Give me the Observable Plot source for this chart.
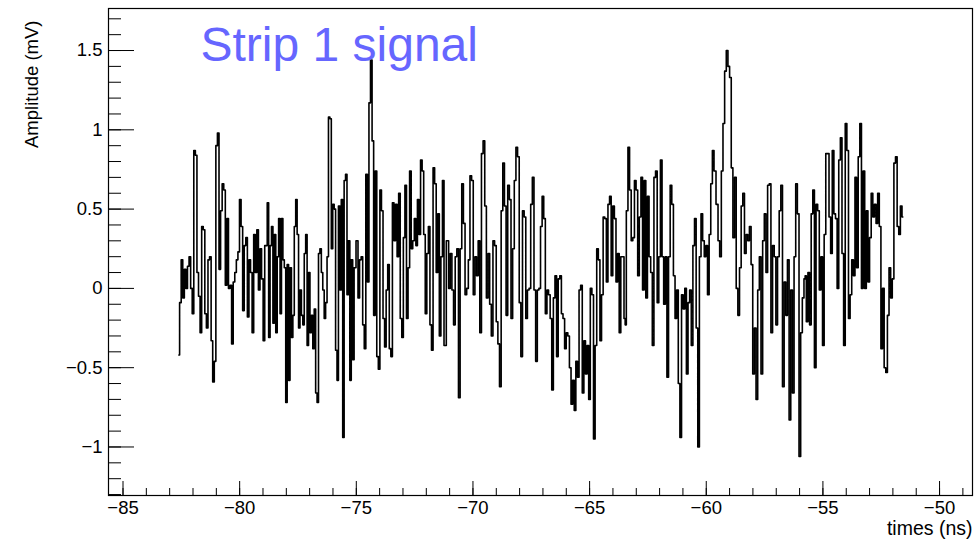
<!DOCTYPE html>
<html><head><meta charset="utf-8">
<script src="https://cdn.jsdelivr.net/npm/d3@7"></script>
<script src="https://cdn.jsdelivr.net/npm/@observablehq/plot@0.6"></script>
<style>body{margin:0;background:#fff} svg{font-family:"Liberation Sans",Arial,sans-serif}</style>
</head><body><div id="chart"></div>
<script>
const title = "Strip 1 signal";
const xLabel = "times (ns)";
const yLabel = "Amplitude (mV)";
const xMajorTicks = [-85, -80, -75, -70, -65, -60, -55, -50];
const xMinorTicks = d3.range(-85, -48, 1);
const yMajorTicks = [-1, -0.5, 0, 0.5, 1, 1.5];
const yMinorTicks = d3.range(-13, 18).map(d => d / 10);

// waveform, read in 8 consecutive stretches (start / end time of each stretch in ns)
const segStart = [-82.608, -78.849, -74.961, -71.078, -67.276, -63.461, -59.531, -55.746];
const segEnd   = [-78.892, -75.064, -71.207, -67.349, -63.491, -59.633, -55.776, -51.575];
const seg1 = [-0.42, -0.09, 0.18, -0.06, 0.12, 0.0, 0.14, 0.2, 0.0, -0.16, 0.87, 0.84, 0.1, -0.05, -0.28, 0.39, 0.37, -0.16, -0.25, 0.18, 0.2, -0.33, -0.59, -0.46, 0.9, 0.98, 0.12, 0.49, 0.66, 0.62, 0.02, 0.44, 0.0, 0.02, -0.35, 0.04, 0.1, 0.18, 0.23, 0.56, 0.39, -0.14, 0.27, 0.32, -0.18, 0.18, 0.1, -0.28, 0.34, 0.1, 0.37, -0.01, 0.25, 0.06, -0.33, 0.27];
const seg2 = [0.27, 0.54, -0.31, 0.27, 0.39, -0.22, 0.34, -0.28, 0.2, 0.44, -0.16, 0.44, 0.18, 0.13, -0.72, 0.15, -0.58, 0.13, -0.31, -0.17, 0.39, 0.56, 0.34, -0.25, -0.01, -0.17, -0.23, 0.22, 0.34, -0.36, 0.1, -0.28, -0.17, -0.38, -0.13, -0.66, -0.72, 0.22, 0.25, 0.1, -0.01, -0.19, -0.09, 0.2, 1.08, 1.07, 0.25, 0.53, 0.5, -0.39, -0.58, 0.52, -0.01, 0.56, -0.94, 0.68, 0.72, -0.04, 0.3, -0.58, 0.18, -0.45, 0.13];
const seg3 = [0.3, -0.06, 0.18, 0.2, -0.23, -0.38, 0.72, 0.04, 1.17, 1.44, 0.93, -0.17, 0.74, -0.43, -0.51, 0.62, 0.49, -0.19, -0.37, -0.01, 0.15, -0.38, -0.43, 0.54, 0.3, 0.53, 0.2, 0.6, -0.19, -0.31, 0.32, 0.65, -0.19, 0.13, 0.74, 0.25, 0.3, 0.44, 0.27, 0.56, 0.34, 0.81, 0.74, 0.34, -0.16, 0.22, 0.39, -0.23, -0.39, 0.76, 0.66, 0.1, 0.47, -0.3, 0.2, 0.68, -0.36];
const seg4 = [0.3, 0.0, 0.22, -0.01, -0.23, 0.2, 0.25, -0.69, 0.25, 0.66, 0.41, -0.04, 0.0, 0.18, 0.71, 0.68, -0.04, 0.2, 0.08, 0.3, -0.28, 0.85, 0.93, 0.52, -0.06, 0.22, -0.1, -0.3, 0.3, 0.27, -0.21, -0.35, -0.62, 0.49, 0.79, 0.52, -0.17, 0.65, 0.56, -0.19, 0.25, 0.68, 0.89, 0.83, -0.09, -0.43, 0.49, 0.45, -0.19, -0.01, 0.0, 0.53, 0.7, -0.01];
const seg5 = [-0.46, -0.01, 0.0, 0.39, 0.58, 0.44, -0.16, -0.01, -0.04, -0.19, -0.64, -0.06, 0.08, -0.43, 0.06, 0.08, -0.16, -0.19, -0.38, -0.28, -0.3, -0.5, -0.73, -0.58, -0.77, -0.46, -0.56, -0.01, 0.02, -0.66, -0.33, -0.54, -0.36, -0.7, 0.0, -0.04, -0.95, -0.36, 0.25, 0.18, -0.33, -0.04, 0.45, 0.44, 0.04, 0.53, 0.58, 0.08, 0.52, 0.44, 0.04, 0.22, -0.28, 0.2, 0.2, -0.19];
const seg6 = [-0.23, 0.49, 0.89, 0.62, 0.3, 0.32, 0.68, 0.62, 0.08, 0.45, 0.7, -0.01, 0.68, -0.06, 0.58, 0.2, 0.1, -0.36, 0.7, 0.74, -0.09, 0.2, 0.81, 0.2, -0.1, 0.2, -0.56, 0.2, 0.65, 0.53, 0.08, -0.19, -0.01, -0.6, -0.94, -0.04, -0.13, 0.0, -0.54, -0.09, -0.01, -0.36, 0.27, 0.44, -0.25, -1.0, 0.2, 0.47, 0.3, 0.2, 0.27, -0.04, 0.34, 0.66, 0.87, 0.74];
const seg7 = [0.53, 0.3, 0.2, 0.74, 1.04, 1.37, 1.5, 1.4, 1.33, 0.76, 0.32, 0.7, 0.0, -0.17, 0.13, 0.52, 0.6, 0.22, 0.34, 0.3, 0.39, 0.15, -0.54, -0.25, -0.7, -0.01, 0.2, -0.54, 0.3, 0.47, 0.1, 0.65, 0.66, -0.28, 0.27, 0.2, -0.23, 0.2, 0.49, 0.65, -0.62, 0.04, -0.17, 0.18, -0.83, -0.01, -0.66, 0.2, 0.66, 0.47, -1.06, -0.28, -0.06, 0.06];
const seg8 = [0.08, -0.21, 0.1, -0.23, 0.47, 0.62, -0.5, 0.53, 0.49, -0.01, 0.2, -0.36, 0.34, 0.85, 0.85, 0.45, 0.22, 0.87, 0.47, 0.44, 0.0, 0.81, 0.95, 0.22, -0.36, 1.04, 0.87, -0.19, -0.04, 0.18, 0.08, 0.7, 0.13, 0.83, 1.04, 0.0, 0.74, 0.0, 0.49, 0.04, 0.32, 0.6, 0.45, 0.53, 0.41, 0.6, 0.39, -0.38, 0.0, -0.5, -0.53, -0.17, 0.13, -0.06, 0.06, 0.79, 0.83, 0.39, 0.34, 0.52, 0.45];

const segments = [seg1, seg2, seg3, seg4, seg5, seg6, seg7, seg8];
const data = segments.flatMap((vals, i) =>
  vals.map((v, j) => ({t: segStart[i] + j * (segEnd[i] - segStart[i]) / (vals.length - 1), v})));

const fmt = d => d < 0 ? "\u2212" + Math.abs(d) : String(d);
const blank = () => "";

const chart = Plot.plot({
  width: 980, height: 543,
  marginLeft: 108, marginRight: 8, marginTop: 8, marginBottom: 48,
  style: {background: "white", fontFamily: "'Liberation Sans', Arial, sans-serif", fontSize: "18px", color: "black"},
  x: {domain: [-85.622, -48.588]},
  y: {domain: [-1.306, 1.765]},
  marks: [
    Plot.frame({stroke: "black", strokeWidth: 1.2}),
    Plot.axisX(xMinorTicks, {anchor: "bottom", tickSize: -7, tickFormat: blank, label: null}),
    Plot.axisX(xMajorTicks, {anchor: "bottom", tickSize: -14, tickFormat: blank, label: null}),
    Plot.axisX(xMajorTicks, {anchor: "bottom", tickSize: 0, tickPadding: 5, tickFormat: fmt, label: null, fontSize: 18.5}),
    Plot.axisY(yMinorTicks, {anchor: "left", tickSize: -13, tickFormat: blank, label: null}),
    Plot.axisY(yMajorTicks, {anchor: "left", tickSize: -26, tickFormat: blank, label: null}),
    Plot.axisY(yMajorTicks, {anchor: "left", tickSize: 0, tickPadding: 6, tickFormat: fmt, label: null, fontSize: 18.5}),
    Plot.line(data, {x: "t", y: "v", curve: "step", stroke: "black", strokeWidth: 1.6}),
    Plot.text([title], {text: d => d, frameAnchor: "top-left", dx: 92, dy: 37, textAnchor: "start", lineAnchor: "middle", fontSize: 48, fill: "#6666ff"}),
    Plot.text([yLabel], {text: d => d, frameAnchor: "top-left", dx: -76, dy: 12, rotate: -90, textAnchor: "end", lineAnchor: "middle", fontSize: 18.5}),
    Plot.text([xLabel], {text: d => d, frameAnchor: "bottom-right", dy: 33, textAnchor: "end", lineAnchor: "middle", fontSize: 19.5})
  ]
});
document.getElementById("chart").append(chart);
</script>
</body></html>
